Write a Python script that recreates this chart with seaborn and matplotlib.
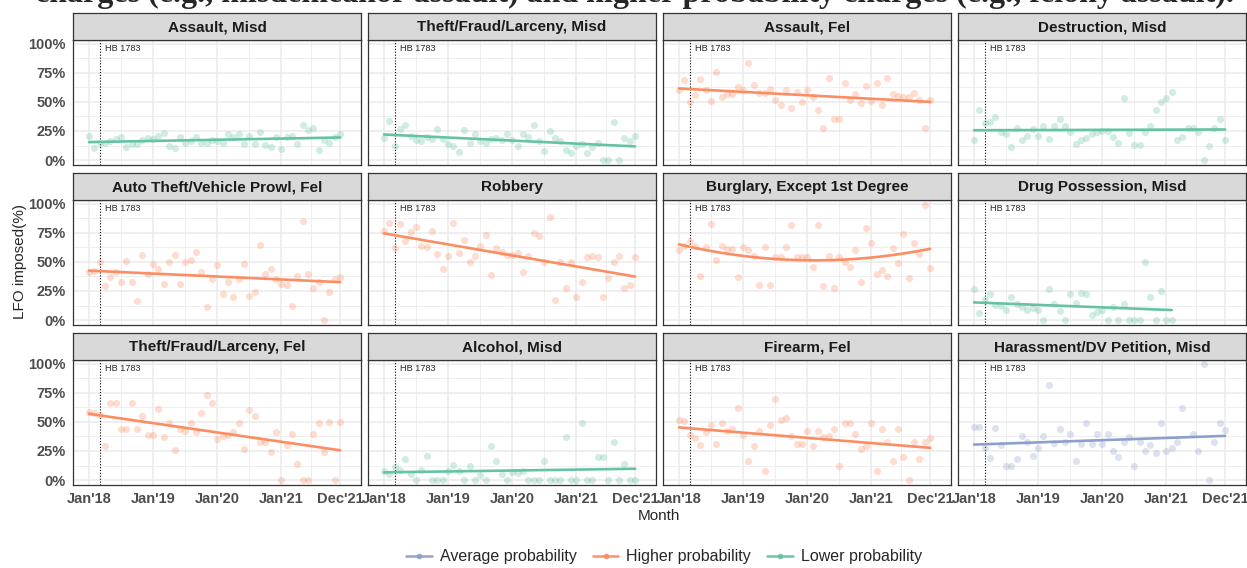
import numpy as np
import pandas as pd
import matplotlib
matplotlib.use("Agg")
import matplotlib.pyplot as plt
from matplotlib.lines import Line2D
import seaborn as sns

nan = np.nan

# facet titles (row by row) and the probability group of each charge
charges = ["Assault, Misd", "Theft/Fraud/Larceny, Misd", "Assault, Fel", "Destruction, Misd",
           "Auto Theft/Vehicle Prowl, Fel", "Robbery", "Burglary, Except 1st Degree", "Drug Possession, Misd",
           "Theft/Fraud/Larceny, Fel", "Alcohol, Misd", "Firearm, Fel", "Harassment/DV Petition, Misd"]
groups = ["Lower probability", "Lower probability", "Higher probability", "Lower probability",
          "Higher probability", "Higher probability", "Higher probability", "Lower probability",
          "Higher probability", "Lower probability", "Higher probability", "Average probability"]

# monthly share of cases with LFO imposed (%), Jan 2018 .. Dec 2021
assault_misd = [21, 10, 15, 15, 16, 18, 20, 11, 14, 14, 17, 19, 18, 21, 23, 12, 10, 20, 15, 16, 20, 15, 15, 17,
                16, 15, 22, 20, 22, 14, 21, 14, 24, 13, 11, 20, 9.5, 20, 21, 14, 30, 26, 28, 9, 17, 15, 20, 22]
theft_misd = [19, 34, 12, 27, 30, 21, 17, 16, 20, 18, 27, 18, 14, 12, 7, 26, 15, 22, 16, 15, 18, 19, 17, 22,
              17, 12, 22, 20, 30, 16, 8, 25, 19, 16, 9, 6, 12, 14, 6, 11, 15, 0, 0, 33, 0, 19, 16, 21]
assault_fel = [60, 69, 50, 56, 70, 60, 51, 76, 54, 57, 57, 63, 60, 84, 65, 58, 58, 61, 52, 47, 60, 45, 59, 50,
               60, 54, 43, 28, 71, 35, 35, 66, 52, 57, 49, 64, 51, 66, 47, 71, 57, 55, 54, 54, 58, 52, 28, 52]
destruction_misd = [17, 43, 32, 33, 37, 24, 22, 11, 28, 17, 21, 27, 21, 29, 18, 29, 35, 29, 24, 14, 17, 19, 22, 24,
                    25, 25, 20, 15, 53, 23, 13, 13, 24, 29, 43, 50, 53, 59, 17, 20, 28, 28, 24, 0, 12, 28, 35, 17]
auto_theft_fel = [41, 42, 50, 29, 37, 41, 33, 51, 33, 16, 56, 40, 48, 44, 31, 50, 56, 31, 50, 52, 59, 41, 11, 35,
                  47, 22, 33, 20, 35, 48, 21, 24, 65, 40, 44, 35, 31, 30, 12, 38, 85, 40, 28, 33, 0, 24, 35, 37]
robbery = [77, 84, 62, 83, 68, 76, 80, 64, 63, 77, 57, 44, 55, 84, 58, 69, 50, 55, 64, 73, 39, 62, 59, 56,
           56, 58, 41, 55, 75, 72, 50, 89, 17, 50, 28, 50, 20, 33, 54, 55, 54, 20, 36, 50, 55, 28, 30, 54]
burglary = [60, 64, 68, 64, 38, 63, 83, 52, 64, 61, 61, 37, 63, 60, 55, 30, 63, 30, 54, 54, 63, 82, 54, 54,
            54, 46, 82, 29, 55, 28, 54, 50, 46, 60, 33, 79, 66, 40, 43, 38, 62, 49, 74, 36, 66, 57, 99, 45]
drug_possession_misd = [27, 6, 18, 22, 13, 12, 9, 20, 14, 11, 9, 10, 9, 0, 27, 14, 8, 0, 22, 15, 23, 22, 4, 7,
                        9, 0, 11, 0, 14, 0, 0, 0, 50, 20, 0, 25, 0, 0, nan, nan, nan, nan, nan, nan, nan, nan, nan, nan]
theft_fel = [59, 58, 56, 29, 66, 66, 44, 44, 66, 44, 55, 39, 39, 61, 37, 49, 26, 44, 42, 49, 41, 58, 73, 66,
             35, 38, 39, 41, 49, 27, 60, 55, 33, 33, 24, 41, 0, 30, 40, 14, 0, 0, 40, 49, 24, 50, 0, 50]
alcohol_misd = [8, 5, 11, 9, 18, 5, 0, 9, 21, 0, 0, 0, 8, 13, 8, 0, 12, 0, 4, 0, 29, 16, 5, 0,
                7, 6, 8, 0, 0, 0, 16, 0, 0, 0, 37, 0, 0, 49, 0, 0, 20, 20, 0, 33, 0, 14, 0, 0]
firearm_fel = [52, 51, 39, 36, 30, 41, 47, 31, 49, 42, 44, 62, 39, 16, 29, 42, 8, 47, 70, 52, 53, 38, 31, 31,
               42, 29, 42, 37, 38, 44, 12, 49, 49, 40, 27, 29, 49, 8, 44, 33, 16, 44, 20, 0, 33, 18, 33, 36]
harassment_misd = [46, 46, 28, 19, 45, 30, 12, 12, 18, 38, 33, 21, 28, 38, 82, 32, 44, 33, 40, 16, 31, 49, 31, 40,
                   31, 40, 25, 20, 33, 37, 12, 33, 25, 30, 23, 49, 25, 28, 33, 62, nan, 40, 25, 100, 0, 33, 49, 43]

series = [assault_misd, theft_misd, assault_fel, destruction_misd,
          auto_theft_fel, robbery, burglary, drug_possession_misd,
          theft_fel, alcohol_misd, firearm_fel, harassment_misd]
fit_order = [1, 1, 1, 1, 1, 1, 2, 1, 1, 1, 1, 1]

month_ticks = [0, 12, 24, 36, 47]
month_labels = ["Jan'18", "Jan'19", "Jan'20", "Jan'21", "Dec'21"]
pct_ticks = [0, 25, 50, 75, 100]
hb1783_month = 2.05

palette = {"Average probability": "#8DA0CB", "Higher probability": "#FC8D62", "Lower probability": "#66C2A5"}

rows = []
for charge, grp, vals in zip(charges, groups, series):
    for m, v in enumerate(vals):
        rows.append((charge, grp, m, v))
df = pd.DataFrame(rows, columns=["charge", "group", "month", "pct"]).dropna()

sns.set_style("white")
plt.rcParams["font.family"] = ["Liberation Sans", "DejaVu Sans"]

W, H = 1247, 568
fig = plt.figure(figsize=(W / 100, H / 100), dpi=100)


def px_axes(x0, y0, w, h):
    return fig.add_axes([x0 / W, 1 - (y0 + h) / H, w / W, h / H])


col_x = [73, 368, 663, 958]
row_y = [13, 173, 333]
strip_h, panel_w, panel_h = 27, 288, 125
border = "#333333"

for i, charge in enumerate(charges):
    r, c = divmod(i, 4)
    color = palette[groups[i]]
    sub = df[df["charge"] == charge]

    ax = px_axes(col_x[c], row_y[r] + strip_h, panel_w, panel_h)
    sns.scatterplot(data=sub, x="month", y="pct", color=color, alpha=0.3, s=26,
                    linewidth=0, ax=ax, legend=False, zorder=3)
    sns.regplot(data=sub, x="month", y="pct", order=fit_order[i], ci=None, scatter=False,
                color=color, line_kws=dict(lw=1.9, zorder=4), ax=ax)
    ax.axvline(hb1783_month, color="black", ls=(0, (1, 1.6)), lw=0.8, zorder=2)
    ax.text(hb1783_month + 0.9, 96.3, "HB 1783", fontsize=6.6, va="center", ha="left", zorder=5)

    ax.set_xlim(-3.0, 50.9)
    ax.set_ylim(-4.3, 103.4)
    ax.set_xticks(month_ticks)
    ax.set_xticks([6, 18, 30, 41.5], minor=True)
    ax.set_yticks(pct_ticks)
    ax.set_yticks([12.5, 37.5, 62.5, 87.5], minor=True)
    ax.grid(which="major", color="#EBEBEB", lw=1.1)
    ax.grid(which="minor", color="#EBEBEB", lw=0.55)
    ax.set_axisbelow(True)
    ax.set_xlabel("")
    ax.set_ylabel("")
    for sp in ax.spines.values():
        sp.set_color(border)
        sp.set_linewidth(0.9)
    ax.tick_params(which="minor", length=0)
    ax.tick_params(which="major", length=3, width=0.8, color=border, pad=2, labelcolor="#4D4D4D")
    if c == 0:
        ax.set_yticklabels([f"{v}%" for v in pct_ticks], fontsize=10.5, fontweight="bold")
    else:
        ax.tick_params(axis="y", left=False, labelleft=False)
    if r == 2:
        ax.set_xticklabels(month_labels, fontsize=10.5, fontweight="bold")
    else:
        ax.tick_params(axis="x", bottom=False, labelbottom=False)

    st = px_axes(col_x[c], row_y[r], panel_w, strip_h)
    st.set_facecolor("#D9D9D9")
    st.set_xticks([])
    st.set_yticks([])
    for sp in st.spines.values():
        sp.set_color(border)
        sp.set_linewidth(0.9)
    st.text(0.5, 0.48, charge, transform=st.transAxes, ha="center", va="center",
            fontsize=11, fontweight="bold", color="#1A1A1A")

fig.text(659 / W, 1 - 516 / H, "Month", ha="center", va="center", fontsize=11)
fig.text(20 / W, 1 - 262 / H, "LFO imposed(%)", ha="center", va="center", rotation=90, fontsize=11)

# caption of the surrounding document, cut off by the top edge
fig.text(1234 / W, 1 - 2 / H,
         "charges (e.g., misdemeanor assault) and higher probability charges (e.g., felony assault).",
         ha="right", va="baseline", fontsize=23, fontweight="bold", family="Liberation Serif")

handles = [Line2D([], [], color=palette[g], lw=1.9, marker="o", markersize=4,
                  markerfacecolor=palette[g], markeredgewidth=0, alpha=0.9)
           for g in palette]
fig.legend(handles, list(palette), loc="center", bbox_to_anchor=(664 / W, 1 - 557 / H),
           ncol=3, frameon=False, fontsize=11.5, handlelength=1.6, handletextpad=0.5,
           columnspacing=1.0)

fig.savefig("out.png", dpi=100)
